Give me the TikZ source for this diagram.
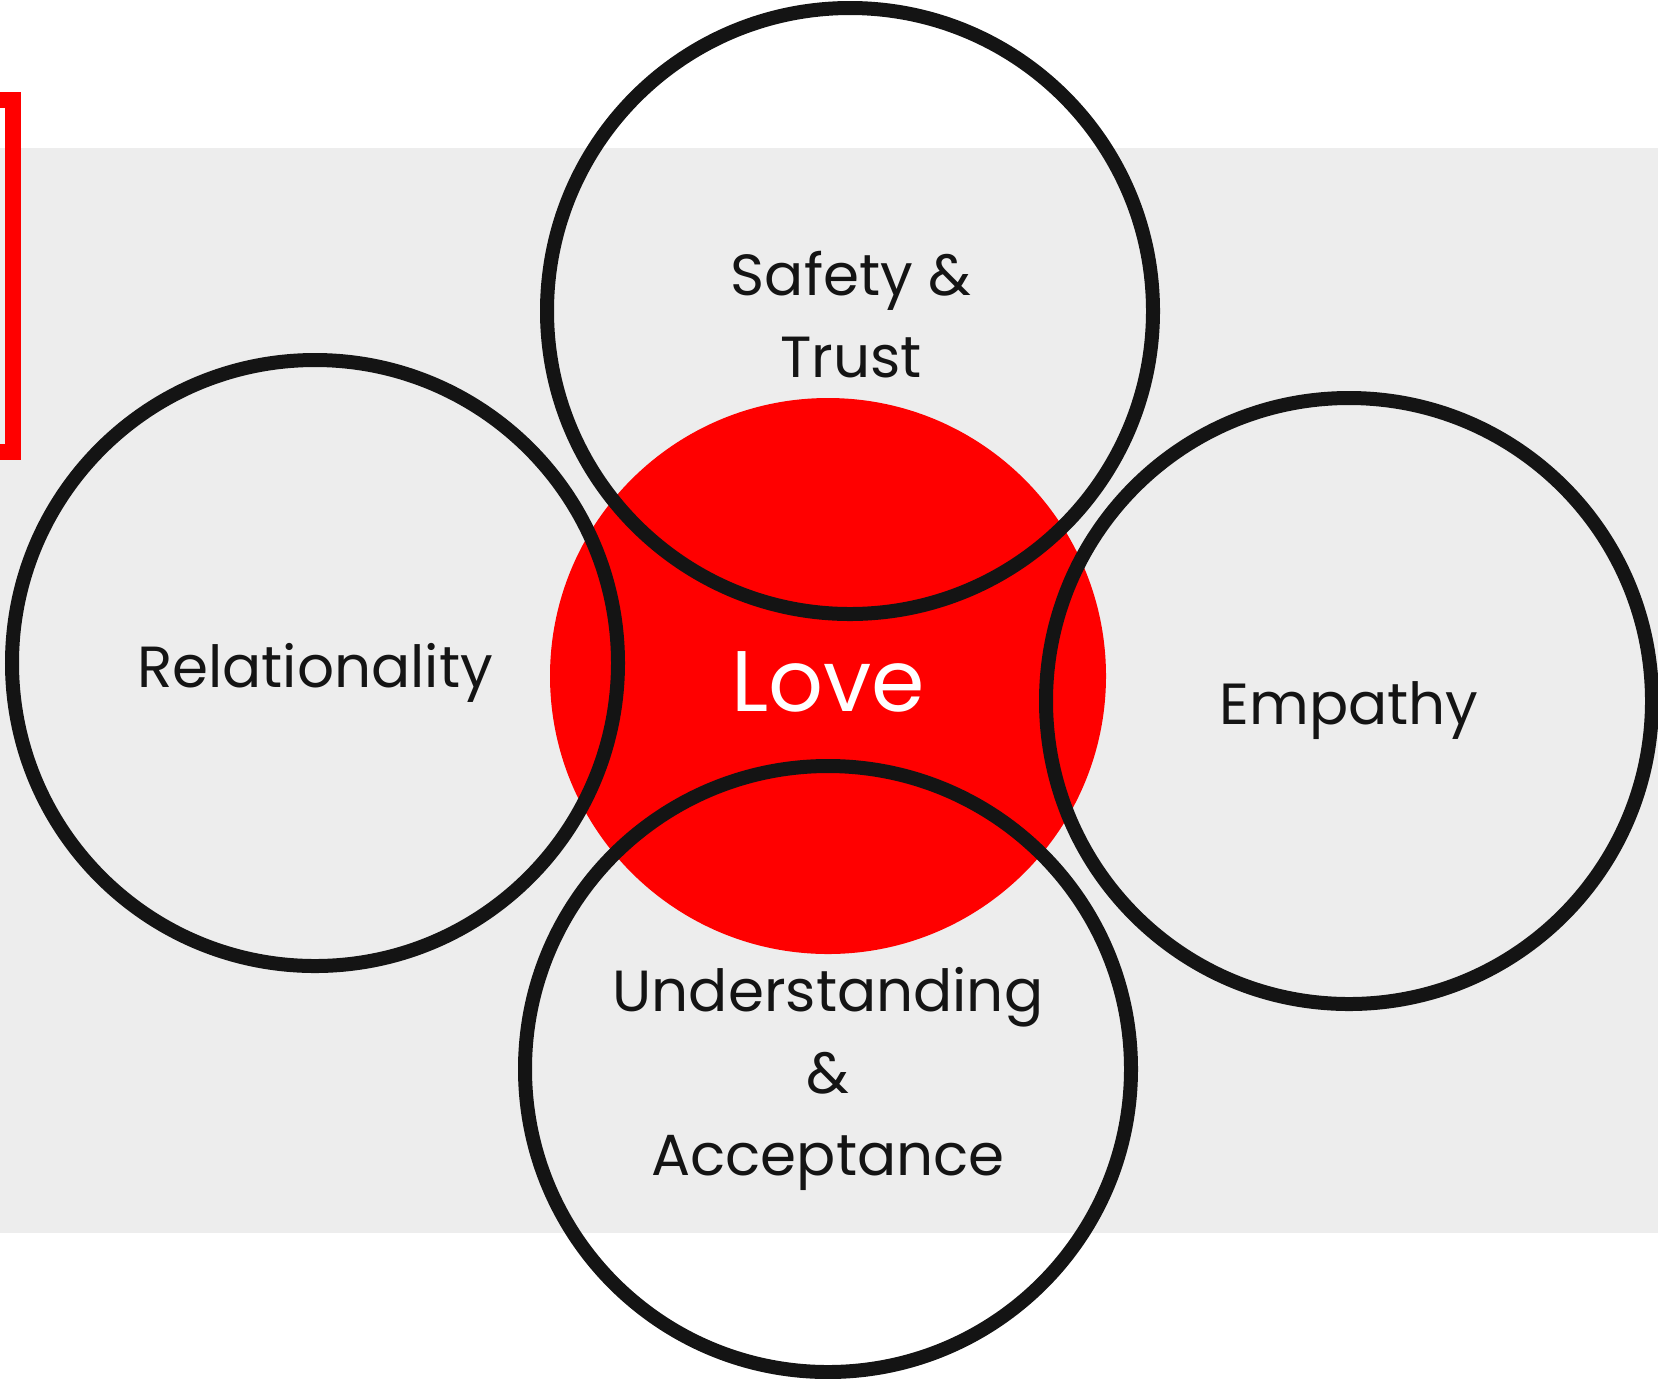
\documentclass[tikz,border=0pt]{standalone}
\usepackage{fontspec}
\setmainfont{Poppins}
\usepackage{tikz}
\definecolor{bandgray}{HTML}{EDEDED}
\definecolor{lovered}{HTML}{FF0000}
\definecolor{ringblack}{HTML}{141414}
\tikzstyle{ring} = [circle, draw=ringblack, line width=7pt, minimum size=303pt, inner sep=0pt]
\tikzstyle{core} = [circle, fill=lovered, minimum size=278pt, inner sep=0pt]
\tikzstyle{word} = [text=ringblack, font=\fontsize{29}{41}\selectfont, align=center, inner sep=0pt]

\begin{document}
\begin{tikzpicture}[x=0.5pt, y=-0.5pt]
		\useasboundingbox (0,0) rectangle (1658,1378);
		\fill[bandgray] (0,148) rectangle (1658,1233);
		\draw[lovered, line width=8pt] (-20,100) rectangle (13,452);

		\node[core] (love) at (828,676) {};

		\node[ring] (safety) at (850,311) {};
		\node[ring] (relation) at (315,663) {};
		\node[ring] (empathy) at (1349,701) {};
		\node[ring] (accept) at (828,1069) {};

		\node[word] (safetytxt) at (851,315) {Safety \&\\Trust};
		\node[word] (relationtxt) at (315,673) {Relationality};
		\node[word] (empathytxt) at (1349,711) {Empathy};
		\node[word] (accepttxt) at (828,1079) {Understanding\\\&\\Acceptance};
		\node[word, text=white, font=\fontsize{43}{48}\selectfont] (lovetxt) at (828,682) {Love};
\end{tikzpicture}
\end{document}
